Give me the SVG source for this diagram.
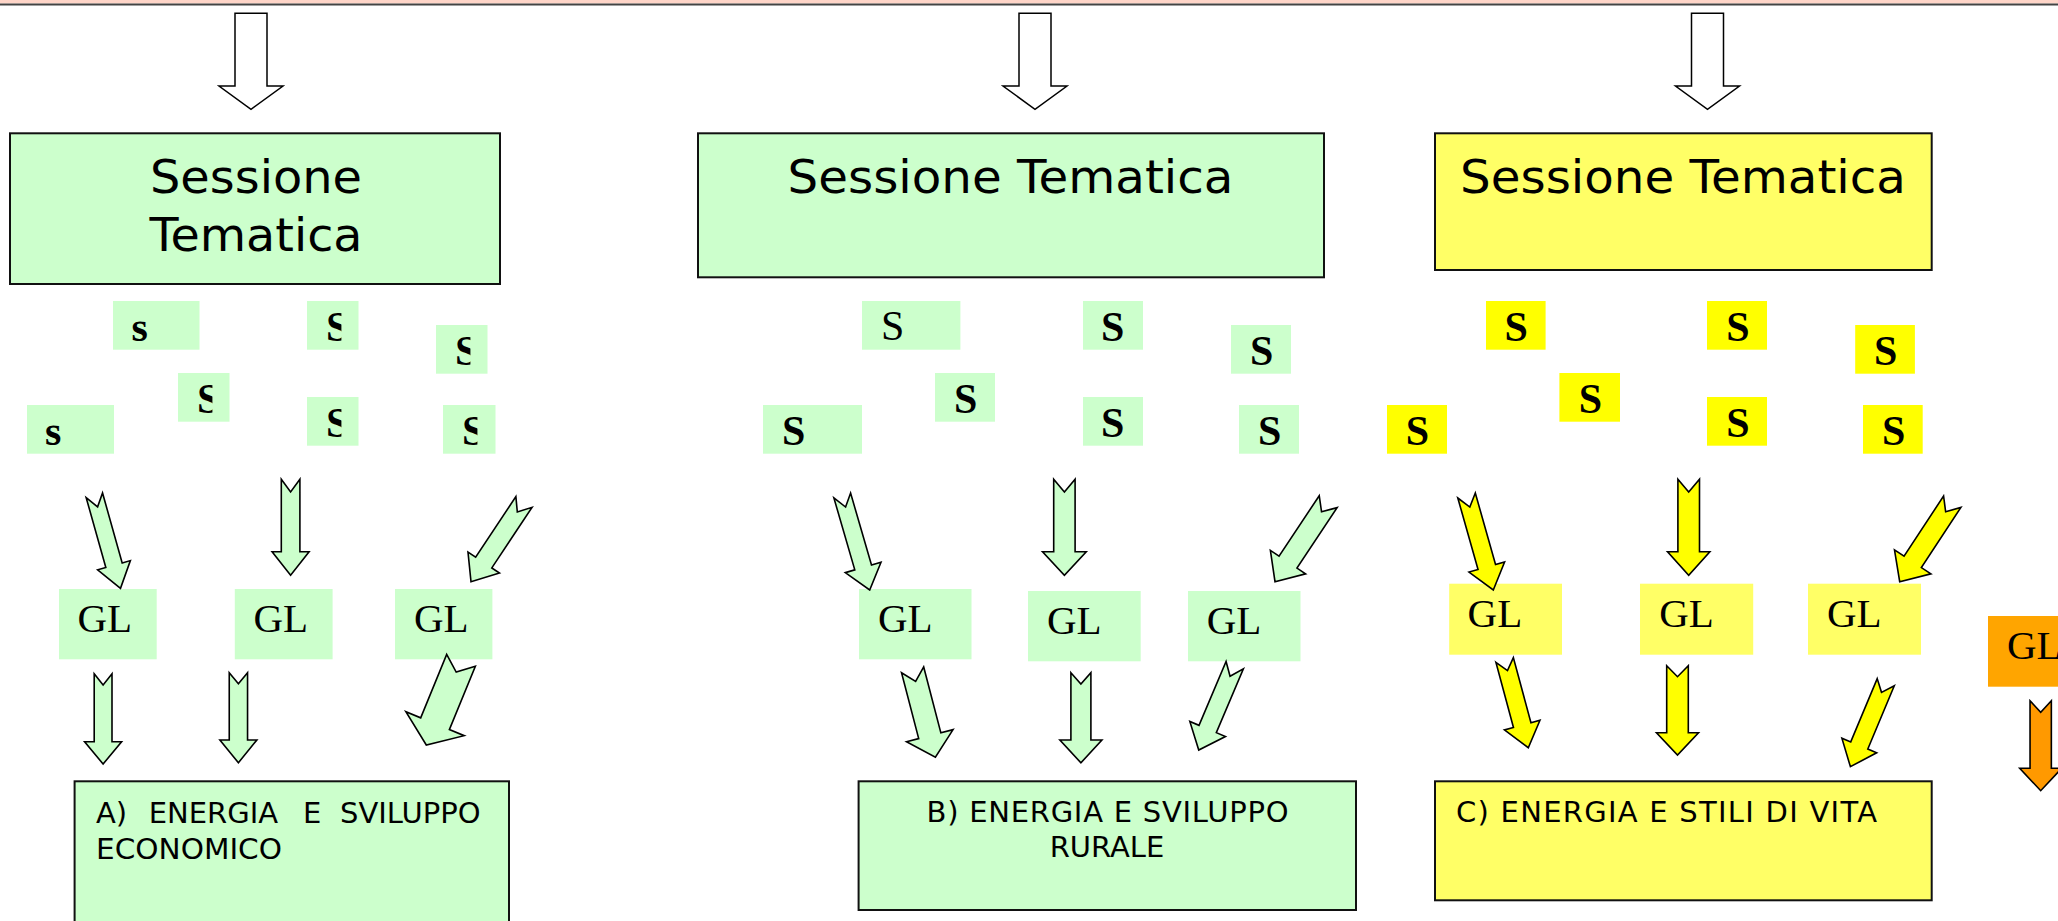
<svg xmlns="http://www.w3.org/2000/svg" width="2058" height="921" viewBox="0 0 2058 921">
<style>
.big{stroke:#111;stroke-width:2}
.g{fill:#CCFFCC}
.ly{fill:#FFFF66}
.y{fill:#FFFF00}
.or{fill:#FFA500}
.title{font-family:"DejaVu Sans","Verdana",sans-serif;font-size:47px;fill:#000}
.sub{font-family:"DejaVu Sans","Verdana",sans-serif;font-size:29px;fill:#000}
.gl{font-family:"Liberation Serif","Times New Roman",serif;font-size:41px;fill:#000}
.s{font-family:"Liberation Serif","Times New Roman",serif;font-size:42px;font-weight:bold;fill:#000}
.sr{font-family:"Liberation Serif","Times New Roman",serif;font-size:42px;fill:#000}
.hollow{fill:#fff;stroke:#000;stroke-width:1.5}
.ag{fill:#CCFFCC;stroke:#000;stroke-width:1.6;stroke-linejoin:miter}
.ay{fill:#FFFF00;stroke:#000;stroke-width:1.6}
.ao{fill:#FF9900;stroke:#000;stroke-width:1.6}
</style>
<defs>
<clipPath id="cut" clipPathUnits="objectBoundingBox"><rect x="0" y="0" width="0.66" height="1"/></clipPath>
</defs>
<rect width="2058" height="921" fill="#fff"/>
<rect x="0" y="0" width="2058" height="3.5" fill="#FFD5C8"/>
<rect x="0" y="3.5" width="2058" height="2" fill="#444"/>

<g id="session-a">
<rect class="g big" x="10" y="133.3" width="490" height="150.7"/>
<text class="title" text-anchor="middle" x="256" y="193.3" textLength="212" lengthAdjust="spacingAndGlyphs">Sessione</text>
<text class="title" text-anchor="middle" x="256" y="250.7" textLength="213" lengthAdjust="spacingAndGlyphs">Tematica</text>
</g>
<g id="session-b">
<rect class="g big" x="698" y="133.3" width="626" height="144"/>
<text class="title" text-anchor="middle" x="1010.5" y="193.3" textLength="446" lengthAdjust="spacingAndGlyphs">Sessione Tematica</text>
</g>
<g id="session-c">
<rect class="ly big" x="1435" y="133.3" width="496.7" height="136.7"/>
<text class="title" text-anchor="middle" x="1683" y="193.3" textLength="446" lengthAdjust="spacingAndGlyphs">Sessione Tematica</text>
</g>

<g id="s-left">
<g id="sa1"><rect class="g" x="113" y="301" width="86.5" height="48.7"/><text class="s" x="131.6" y="340.7">s</text></g>
<g id="sa2"><rect class="g" x="307" y="301" width="51.5" height="48.7"/><text class="s" x="326" y="340.7" clip-path="url(#cut)">S</text></g>
<g id="sa3"><rect class="g" x="436" y="325" width="51.5" height="48.7"/><text class="s" x="455" y="364.7" clip-path="url(#cut)">S</text></g>
<g id="sa4"><rect class="g" x="178" y="373" width="51.5" height="48.7"/><text class="s" x="197" y="412.7" clip-path="url(#cut)">S</text></g>
<g id="sa5"><rect class="g" x="27" y="405" width="87" height="48.7"/><text class="s" x="45" y="444.7">s</text></g>
<g id="sa6"><rect class="g" x="307" y="397" width="51.5" height="48.7"/><text class="s" x="326" y="436.7" clip-path="url(#cut)">S</text></g>
<g id="sa7"><rect class="g" x="443" y="405" width="52.5" height="48.7"/><text class="s" x="462" y="444.7" clip-path="url(#cut)">S</text></g>
</g>

<g id="s-mid">
<g id="sb1"><rect class="g" x="862" y="301" width="98.4" height="48.7"/><text class="sr" x="881" y="340">S</text></g>
<g id="sb2"><rect class="g" x="1083" y="301" width="60" height="48.7"/><text class="s" x="1101" y="340.7">S</text></g>
<g id="sb3"><rect class="g" x="1231" y="325" width="60" height="48.7"/><text class="s" x="1250" y="364.7">S</text></g>
<g id="sb4"><rect class="g" x="935" y="373" width="60" height="48.7"/><text class="s" x="954" y="412.7">S</text></g>
<g id="sb5"><rect class="g" x="763" y="405" width="99" height="48.7"/><text class="s" x="782" y="444.7">S</text></g>
<g id="sb6"><rect class="g" x="1083" y="397" width="60" height="48.7"/><text class="s" x="1101" y="436.7">S</text></g>
<g id="sb7"><rect class="g" x="1239" y="405" width="60" height="48.7"/><text class="s" x="1258" y="444.7">S</text></g>
</g>

<g id="s-right">
<g id="sc1"><rect class="y" x="1486" y="301" width="59.6" height="48.7"/><text class="s" x="1504.4" y="340.7">S</text></g>
<g id="sc2"><rect class="y" x="1707" y="301" width="60" height="48.7"/><text class="s" x="1726.2" y="340.7">S</text></g>
<g id="sc3"><rect class="y" x="1855.2" y="325" width="59.7" height="48.7"/><text class="s" x="1874" y="364.7">S</text></g>
<g id="sc4"><rect class="y" x="1559.4" y="373" width="60.6" height="48.7"/><text class="s" x="1578.8" y="412.7">S</text></g>
<g id="sc5"><rect class="y" x="1387" y="405" width="60" height="48.7"/><text class="s" x="1405.8" y="444.7">S</text></g>
<g id="sc6"><rect class="y" x="1707" y="397" width="60" height="48.7"/><text class="s" x="1726.2" y="436.7">S</text></g>
<g id="sc7"><rect class="y" x="1863" y="405" width="59.7" height="48.7"/><text class="s" x="1881.9" y="444.7">S</text></g>
</g>

<g id="gl-a1"><rect class="g" x="59" y="589" width="97.7" height="70.3"/><text class="gl" x="77.5" y="632.3">GL</text></g>
<g id="gl-a2"><rect class="g" x="234.8" y="589" width="97.8" height="70.3"/><text class="gl" x="253.5" y="632.3">GL</text></g>
<g id="gl-a3"><rect class="g" x="395" y="589" width="97.4" height="70.3"/><text class="gl" x="414" y="632.3">GL</text></g>
<g id="gl-b1"><rect class="g" x="859" y="589" width="112.5" height="70.3"/><text class="gl" x="878" y="632.3">GL</text></g>
<g id="gl-b2"><rect class="g" x="1028" y="591" width="112.7" height="70.3"/><text class="gl" x="1047" y="634">GL</text></g>
<g id="gl-b3"><rect class="g" x="1188" y="591" width="112.5" height="70.3"/><text class="gl" x="1206.7" y="634">GL</text></g>
<g id="gl-c1"><rect class="ly" x="1449.2" y="583.7" width="112.8" height="71"/><text class="gl" x="1467.6" y="626.7">GL</text></g>
<g id="gl-c2"><rect class="ly" x="1640" y="583.7" width="113.2" height="71"/><text class="gl" x="1659.2" y="626.7">GL</text></g>
<g id="gl-c3"><rect class="ly" x="1808" y="583.7" width="113" height="71"/><text class="gl" x="1827" y="626.7">GL</text></g>
<g id="gl-d"><rect class="or" x="1988" y="616" width="80" height="70.7"/><text class="gl" x="2007" y="659.3">GL</text></g>

<g id="theme-a">
<rect class="g big" x="74.6" y="781.3" width="434.4" height="200"/>
<text class="sub" y="823.3"><tspan x="96">A)</tspan><tspan x="148.7">ENERGIA</tspan><tspan x="303">E</tspan><tspan x="340">SVILUPPO</tspan></text>
<text class="sub" x="96" y="859" textLength="186" lengthAdjust="spacingAndGlyphs">ECONOMICO</text>
</g>
<g id="theme-b">
<rect class="g big" x="858.6" y="781.3" width="497.4" height="128.7"/>
<text class="sub" text-anchor="middle" x="1107.5" y="821.7" textLength="362" lengthAdjust="spacing">B) ENERGIA E SVILUPPO</text>
<text class="sub" text-anchor="middle" x="1107" y="856.7">RURALE</text>
</g>
<g id="theme-c">
<rect class="ly big" x="1435" y="781.3" width="496.7" height="119"/>
<text class="sub" x="1456" y="821.7" textLength="421" lengthAdjust="spacing">C) ENERGIA E STILI DI VITA</text>
</g>

<g id="connectors">
<polygon class="hollow" points="235,13.3 267,13.3 267,86 283,86 251,109.3 219,86 235,86"/>
<polygon class="hollow" points="1019,13.3 1051,13.3 1051,86 1067,86 1035,109.3 1003,86 1019,86"/>
<polygon class="hollow" points="1691.5,13.3 1723.5,13.3 1723.5,86 1739.5,86 1707.5,109.3 1675.5,86 1691.5,86"/>

<polygon class="ag" transform="translate(120.5,588.3) rotate(-15.7)" points="-8.5,-96.6 0,-84.6 8.5,-96.6 8.5,-24 17,-24 0,0 -17,-24 -8.5,-24"/>
<polygon class="ag" transform="translate(290.6,575.3)" points="-9.3,-96 0,-83.3 9.3,-96 9.3,-23.6 18.5,-23.6 0,0 -18.5,-23.6 -9.3,-23.6"/>
<polygon class="ag" transform="translate(471,581.7) rotate(33.6)" points="-9.7,-95.7 0,-83.7 9.7,-95.7 9.7,-23 18.9,-23 0,0 -18.9,-23 -9.7,-23"/>
<polygon class="ag" transform="translate(103.1,764)" points="-8.9,-90.3 0,-79 8.9,-90.3 8.9,-22.3 18.5,-22.3 0,0 -18.5,-22.3 -8.9,-22.3"/>
<polygon class="ag" transform="translate(238.4,762.7)" points="-9.15,-90 0,-79 9.15,-90 9.15,-22.7 18.5,-22.7 0,0 -18.5,-22.7 -9.15,-22.7"/>
<polygon class="ag" transform="translate(426.3,745) rotate(22.3)" points="-15.5,-91.5 0,-78.8 15.5,-91.5 15.5,-23 31.5,-23 0,0 -31.5,-23 -15.5,-23"/>

<polygon class="ag" transform="translate(869.7,590) rotate(-16.2)" points="-8.7,-98.4 0,-86.4 8.7,-98.4 8.7,-23.5 18.6,-23.5 0,0 -18.6,-23.5 -8.7,-23.5"/>
<polygon class="ag" transform="translate(1064.4,575.3)" points="-10.7,-96 0,-83.3 10.7,-96 10.7,-23.6 21.85,-23.6 0,0 -21.85,-23.6 -10.7,-23.6"/>
<polygon class="ag" transform="translate(1275,581.7) rotate(33.6)" points="-10.75,-96.1 0,-84.1 10.75,-96.1 10.75,-23.5 21.15,-23.5 0,0 -21.15,-23.5 -10.75,-23.5"/>
<polygon class="ag" transform="translate(935.4,757.3) rotate(-14.6)" points="-11.45,-90.4 0,-78.4 11.45,-90.4 11.45,-22.3 24.05,-22.3 0,0 -24.05,-22.3 -11.45,-22.3"/>
<polygon class="ag" transform="translate(1080.9,762.7)" points="-10,-90 0,-78.7 10,-90 10,-22.7 21,-22.7 0,0 -21,-22.7 -10,-22.7"/>
<polygon class="ag" transform="translate(1198.75,750) rotate(23)" points="-9.4,-92.1 0,-80.1 9.4,-92.1 9.4,-22.8 19.35,-22.8 0,0 -19.35,-22.8 -9.4,-22.8"/>

<polygon class="ay" transform="translate(1493.3,590) rotate(-15.8)" points="-9.1,-98.2 0,-86.2 9.1,-98.2 9.1,-23.9 18.5,-23.9 0,0 -18.5,-23.9 -9.1,-23.9"/>
<polygon class="ay" transform="translate(1688.7,575.3)" points="-10.8,-96 0,-83.3 10.8,-96 10.8,-23.6 21.15,-23.6 0,0 -21.15,-23.6 -10.8,-23.6"/>
<polygon class="ay" transform="translate(1899.7,581.7) rotate(33.3)" points="-10.35,-95.7 0,-83.7 10.35,-95.7 10.35,-23.7 21.8,-23.7 0,0 -21.8,-23.7 -10.35,-23.7"/>
<polygon class="ay" transform="translate(1528.3,747.7) rotate(-15.1)" points="-9.05,-90.9 0,-79.9 9.05,-90.9 9.05,-23.4 18.4,-23.4 0,0 -18.4,-23.4 -9.05,-23.4"/>
<polygon class="ay" transform="translate(1677.5,755)" points="-10.8,-89.3 0,-78.3 10.8,-89.3 10.8,-22.3 21,-22.3 0,0 -21,-22.3 -10.8,-22.3"/>
<polygon class="ay" transform="translate(1850.4,766.7) rotate(22.7)" points="-9.25,-91.6 0,-80.6 9.25,-91.6 9.25,-23 18.85,-23 0,0 -18.85,-23 -9.25,-23"/>

<polygon class="ao" transform="translate(2040.7,790.7)" points="-10.65,-90 0,-78.3 10.65,-90 10.65,-22.4 21,-22.4 0,0 -21,-22.4 -10.65,-22.4"/>
</g>
</svg>
